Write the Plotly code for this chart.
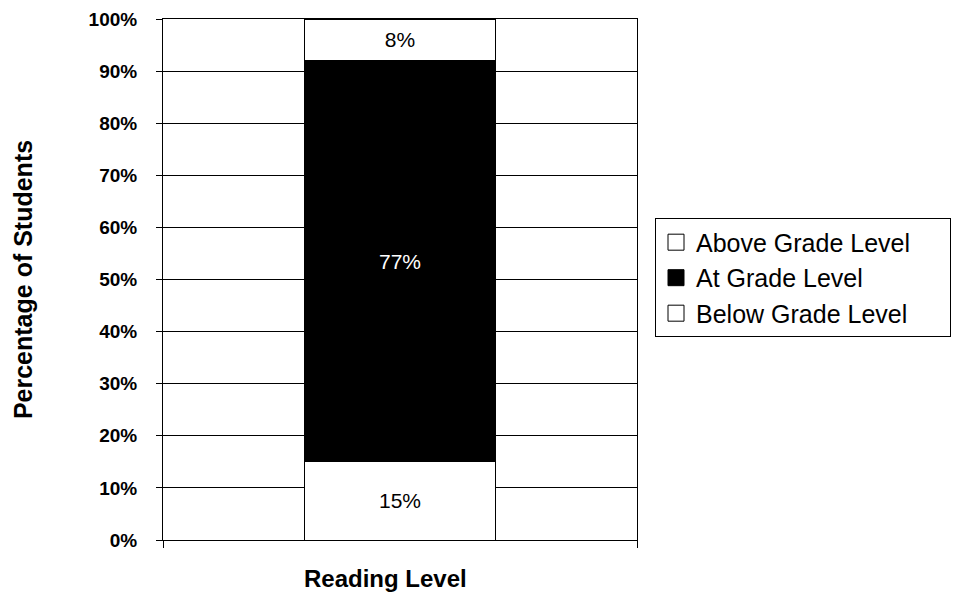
import plotly.graph_objects as go

category = ["Reading Level"]
series_names = ["Below Grade Level", "At Grade Level", "Above Grade Level"]
below_values = [15]
at_values = [77]
above_values = [8]
y_tick_values = [0, 10, 20, 30, 40, 50, 60, 70, 80, 90, 100]
y_tick_labels = ["0%", "10%", "20%", "30%", "40%", "50%", "60%", "70%", "80%", "90%", "100%"]

FONT = "Liberation Sans, Arial, sans-serif"

fig = go.Figure()
series = [
    (series_names[0], below_values, "white", "black"),
    (series_names[1], at_values, "black", "white"),
    (series_names[2], above_values, "white", "black"),
]
for name, vals, fill, txtcol in series:
    fig.add_trace(go.Bar(
        x=[0], y=vals, name=name, width=0.405, showlegend=False,
        marker=dict(color=fill, line=dict(color="black", width=1)),
        text=[f"{v}%" for v in vals], textposition="inside",
        insidetextanchor="middle", textangle=0, constraintext="none",
        textfont=dict(family=FONT, size=21, color=txtcol),
        hoverinfo="skip",
    ))

# legend entries (larger square swatches), top to bottom
for name, vals, fill, txtcol in reversed(series):
    fig.add_trace(go.Scatter(
        x=[None], y=[None], mode="markers", name=name + "\u00a0" * 5,
        marker=dict(symbol="square", size=16, color=fill,
                    line=dict(color="black", width=1)),
        hoverinfo="skip",
    ))

fig.update_layout(
    barmode="stack",
    width=952, height=588,
    margin=dict(l=155, r=323, t=11, b=56, autoexpand=False),
    paper_bgcolor="white", plot_bgcolor="white",
    font=dict(family=FONT, color="black"),
    showlegend=True,
    legend=dict(
        x=1.038, xanchor="left", y=0.503, yanchor="middle",
        traceorder="normal", itemsizing="trace",
        bordercolor="black", borderwidth=1,
        font=dict(family=FONT, size=25, color="black"),
        bgcolor="white", tracegroupgap=0,
    ),
    xaxis=dict(
        range=[-0.5, 0.5], automargin=False,
        tickvals=[-0.5, 0.5], ticktext=["", ""],
        ticks="outside", ticklen=7, tickcolor="black",
        showgrid=False, zeroline=False,
        showline=True, linecolor="black", linewidth=1, mirror=True,
    ),
    yaxis=dict(
        range=[0, 100], automargin=False,
        tickvals=y_tick_values, ticktext=[f"<b>{t}</b>" for t in y_tick_labels],
        ticks="outside", ticklen=6, tickcolor="black",
        tickfont=dict(family=FONT, size=19, color="black"),
        ticklabelstandoff=15,
        showgrid=True, gridcolor="black", gridwidth=1,
        zeroline=False,
        showline=True, linecolor="black", linewidth=1, mirror=True,
        title=dict(text="<b>Percentage of Students</b>", font=dict(family=FONT, size=25), standoff=48),
    ),
    annotations=[dict(
        text="<b>" + category[0] + "</b>", xref="paper", yref="paper",
        x=0.47, y=-0.1036, xanchor="center", yanchor="bottom",
        showarrow=False, font=dict(family=FONT, size=24, color="black"),
    )],
)

fig.write_html("out.html")
